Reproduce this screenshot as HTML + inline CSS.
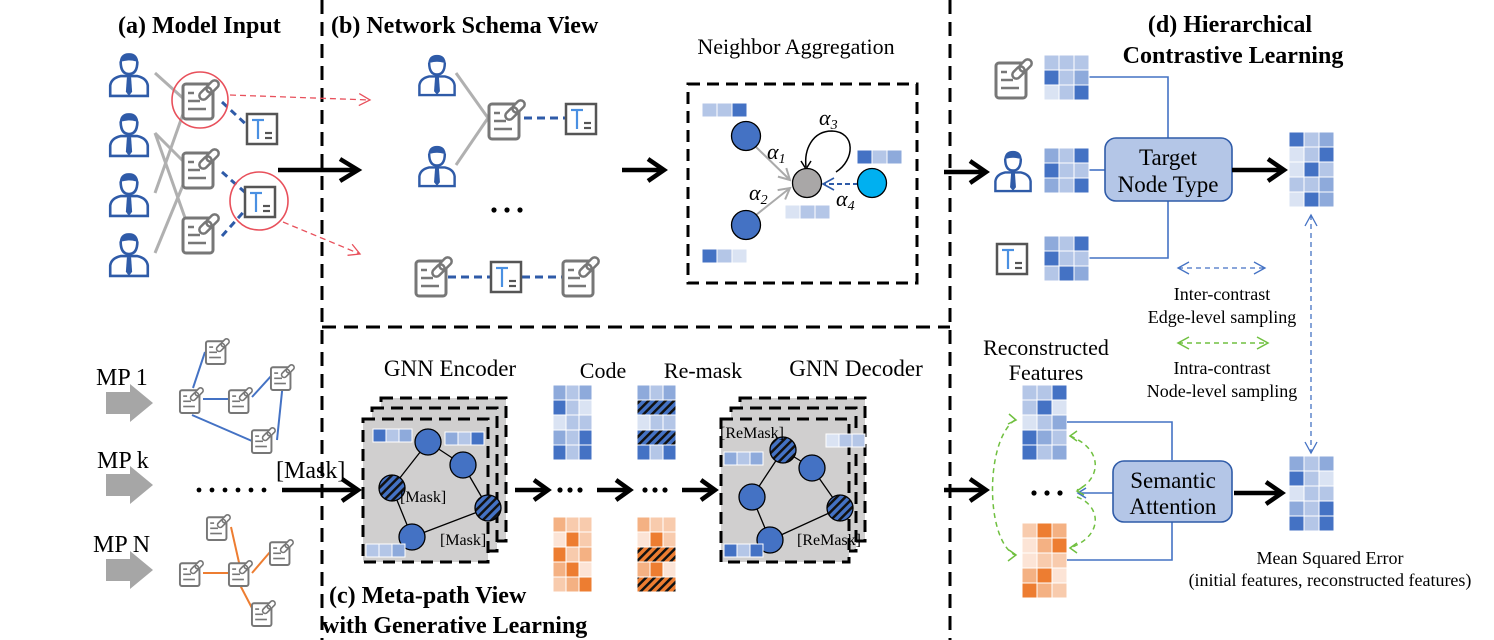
<!DOCTYPE html>
<html><head><meta charset="utf-8"><style>
html,body{margin:0;padding:0;background:#fff;}
svg{display:block;font-family:"Liberation Serif",serif;}
.d{fill:#4472c4}.m{fill:#8eaadb}.l{fill:#b4c6e7}.p{fill:#dae3f3}
.o1{fill:#ed7d31}.o2{fill:#f4b183}.o3{fill:#f8cbad}.o4{fill:#fce4d6}
.sb{fill:url(#sb)}.so{fill:url(#so)}
.g rect{stroke:#fff;stroke-width:1}
</style></head><body>
<svg width="1494" height="640" viewBox="0 0 1494 640" xmlns="http://www.w3.org/2000/svg">
<defs>
<pattern id="sb" width="6" height="6" patternUnits="userSpaceOnUse" patternTransform="rotate(45)"><rect width="6" height="6" fill="#4472c4"/><rect width="2.5" height="6" fill="#111"/></pattern>
<pattern id="so" width="6" height="6" patternUnits="userSpaceOnUse" patternTransform="rotate(45)"><rect width="6" height="6" fill="#ed7d31"/><rect width="2.5" height="6" fill="#111"/></pattern>
<symbol id="person" viewBox="0 0 40 46">
<path d="M11 13 Q11 3 20 3 Q29 3 29 13 L27 11 Q20 9 13 11 Z" fill="#2f5ba8"/>
<path d="M12 11 Q12 23 20 23 Q28 23 28 11" fill="none" stroke="#2f5ba8" stroke-width="2.5"/>
<path d="M2 44 L2 34 Q3 27 12 25 L28 25 Q37 27 38 34 L38 44 Z" fill="none" stroke="#2f5ba8" stroke-width="2.5"/>
<polygon points="18,26 22,26 23,40 20,44 17,40" fill="#2f5ba8"/>
</symbol>
<symbol id="doc" viewBox="0 0 40 46">
<rect x="3" y="8" width="30" height="35" rx="3" fill="#fff" stroke="#777" stroke-width="3"/>
<line x1="8" y1="17" x2="14" y2="17" stroke="#777" stroke-width="2.5"/>
<line x1="8" y1="25" x2="20" y2="25" stroke="#777" stroke-width="2.5"/>
<line x1="8" y1="33" x2="26" y2="33" stroke="#777" stroke-width="2.5"/>
<g transform="rotate(45 29 14)"><rect x="25" y="2" width="8" height="14" rx="4" fill="#fff" stroke="#777" stroke-width="2.5"/><rect x="25" y="12" width="8" height="14" rx="4" fill="none" stroke="#777" stroke-width="2.5"/></g>
</symbol>
<symbol id="tbox" viewBox="0 0 34 34">
<rect x="2" y="2" width="30" height="30" fill="#fff" stroke="#555" stroke-width="2.5"/>
<line x1="7" y1="8" x2="19" y2="8" stroke="#4a90e2" stroke-width="2.2"/>
<line x1="13" y1="8" x2="13" y2="27" stroke="#4a90e2" stroke-width="2.2"/>
<line x1="20" y1="21" x2="27" y2="21" stroke="#555" stroke-width="2.2"/>
<line x1="20" y1="26" x2="27" y2="26" stroke="#555" stroke-width="2.2"/>
</symbol>
<marker id="ar" markerWidth="14" markerHeight="14" refX="12" refY="7" orient="auto" markerUnits="userSpaceOnUse"><path d="M1 1 L12 7 L1 13" fill="none" stroke="#e8505b" stroke-width="1.3"/></marker>
<marker id="abl" markerWidth="14" markerHeight="14" refX="12" refY="7" orient="auto-start-reverse" markerUnits="userSpaceOnUse"><path d="M1 1 L12 7 L1 13" fill="none" stroke="#4472c4" stroke-width="1.3"/></marker>
<marker id="agr" markerWidth="14" markerHeight="14" refX="12" refY="7" orient="auto-start-reverse" markerUnits="userSpaceOnUse"><path d="M1 1 L12 7 L1 13" fill="none" stroke="#70c040" stroke-width="1.5"/></marker>
<marker id="agy" markerWidth="14" markerHeight="14" refX="12" refY="7" orient="auto" markerUnits="userSpaceOnUse"><path d="M1 1 L12 7 L1 13" fill="none" stroke="#aaa" stroke-width="2"/></marker>
<marker id="ad" markerWidth="14" markerHeight="14" refX="12" refY="7" orient="auto" markerUnits="userSpaceOnUse"><path d="M1 1 L12 7 L1 13" fill="none" stroke="#2f5ba8" stroke-width="1.6"/></marker>
</defs>

<g stroke="#000" stroke-width="3" stroke-dasharray="14 8" fill="none">
<line x1="322" y1="0" x2="322" y2="640"/>
<line x1="950" y1="0" x2="950" y2="640"/>
<line x1="322" y1="327" x2="950" y2="327"/>
</g>

<g font-weight="bold" font-size="24" fill="#000">
<text x="118" y="33">(a) Model Input</text>
<text x="331" y="33">(b) Network Schema View</text>
<text x="1230" y="32" text-anchor="middle">(d) Hierarchical</text>
<text x="1233" y="63" text-anchor="middle">Contrastive Learning</text>
<text x="329" y="603">(c) Meta-path View</text>
<text x="322" y="633">with Generative Learning</text>
</g>
<text x="796" y="54" font-size="22" text-anchor="middle">Neighbor Aggregation</text>

<!-- (a) -->
<g stroke="#b0b0b0" stroke-width="3">
<line x1="155" y1="73" x2="185" y2="100"/>
<line x1="155" y1="133" x2="190" y2="168"/>
<line x1="155" y1="133" x2="190" y2="232"/>
<line x1="155" y1="193" x2="188" y2="100"/>
<line x1="155" y1="253" x2="190" y2="168"/>
</g>
<g stroke="#2f5ba8" stroke-width="3" stroke-dasharray="7 5" fill="none">
<line x1="222" y1="102" x2="250" y2="128"/>
<line x1="222" y1="172" x2="248" y2="195"/>
<line x1="222" y1="236" x2="248" y2="207"/>
</g>
<use href="#person" x="108" y="50" width="42" height="48"/>
<use href="#person" x="108" y="110" width="42" height="48"/>
<use href="#person" x="108" y="170" width="42" height="48"/>
<use href="#person" x="108" y="230" width="42" height="48"/>
<use href="#doc" x="180" y="76" width="40" height="46"/>
<use href="#doc" x="180" y="145" width="40" height="46"/>
<use href="#doc" x="180" y="210" width="40" height="46"/>
<use href="#tbox" x="245" y="112" width="34" height="34"/>
<use href="#tbox" x="243" y="185" width="34" height="34"/>
<circle cx="200" cy="100" r="28" fill="none" stroke="#e8505b" stroke-width="1.6"/>
<circle cx="259" cy="201" r="29" fill="none" stroke="#e8505b" stroke-width="1.6"/>
<line x1="230" y1="95" x2="370" y2="100" stroke="#e8505b" stroke-width="1.3" stroke-dasharray="6 4" marker-end="url(#ar)"/>
<line x1="283" y1="222" x2="360" y2="254" stroke="#e8505b" stroke-width="1.3" stroke-dasharray="6 4" marker-end="url(#ar)"/>
<line x1="278" y1="170" x2="354" y2="170" stroke="#000" stroke-width="4.5"/>
<path d="M340 159 L358 170 L340 181" fill="none" stroke="#000" stroke-width="4.5"/>

<!-- (b) -->
<line x1="456" y1="73" x2="488" y2="118" stroke="#b0b0b0" stroke-width="3"/>
<line x1="456" y1="165" x2="488" y2="118" stroke="#b0b0b0" stroke-width="3"/>
<line x1="524" y1="118" x2="566" y2="118" stroke="#2f5ba8" stroke-width="3" stroke-dasharray="8 5"/>
<use href="#person" x="417" y="52" width="40" height="45"/>
<use href="#person" x="417" y="143" width="40" height="45"/>
<use href="#doc" x="486" y="96" width="40" height="46"/>
<use href="#tbox" x="564" y="102" width="34" height="34"/>
<g fill="#000"><circle cx="494" cy="210" r="2.6"/><circle cx="507" cy="210" r="2.6"/><circle cx="520" cy="210" r="2.6"/></g>
<line x1="448" y1="277" x2="492" y2="277" stroke="#2f5ba8" stroke-width="3" stroke-dasharray="8 5"/>
<line x1="522" y1="277" x2="563" y2="277" stroke="#2f5ba8" stroke-width="3" stroke-dasharray="8 5"/>
<use href="#doc" x="413" y="253" width="40" height="46"/>
<use href="#tbox" x="489" y="260" width="34" height="34"/>
<use href="#doc" x="560" y="253" width="40" height="46"/>
<line x1="622" y1="170" x2="660" y2="170" stroke="#000" stroke-width="4.5"/>
<path d="M648 159 L664 170 L648 181" fill="none" stroke="#000" stroke-width="4.5"/>

<!-- neighbor aggregation -->
<rect x="688" y="84" width="229" height="199" fill="none" stroke="#000" stroke-width="3" stroke-dasharray="12 7"/>
<line x1="756" y1="147" x2="790" y2="180" stroke="#aaa" stroke-width="2" marker-end="url(#agy)"/>
<line x1="756" y1="215" x2="790" y2="188" stroke="#aaa" stroke-width="2" marker-end="url(#agy)"/>
<line x1="858" y1="184" x2="823" y2="184" stroke="#2f5ba8" stroke-width="2" stroke-dasharray="5 3" marker-end="url(#ad)"/>
<path d="M836 172 C855 160 856 132 832 131 C812 131 804 150 806 167" fill="none" stroke="#000" stroke-width="1.5"/>
<path d="M801 161 L806 169 L811 161" fill="none" stroke="#000" stroke-width="1.5"/>
<circle cx="746" cy="136" r="14.5" fill="#4472c4" stroke="#000" stroke-width="1.3"/>
<circle cx="746" cy="225" r="14.5" fill="#4472c4" stroke="#000" stroke-width="1.3"/>
<circle cx="807" cy="183" r="14.5" fill="#a9a7a7" stroke="#000" stroke-width="1.3"/>
<circle cx="872" cy="183" r="14.5" fill="#00b0f0" stroke="#000" stroke-width="1.3"/>
<g class="g"><rect x="702" y="103" width="15" height="14" class="l"/><rect x="717" y="103" width="15" height="14" class="l"/><rect x="732" y="103" width="15" height="14" class="d"/></g>
<g class="g"><rect x="857" y="150" width="15" height="14" class="d"/><rect x="872" y="150" width="15" height="14" class="l"/><rect x="887" y="150" width="15" height="14" class="m"/></g>
<g class="g"><rect x="785" y="205" width="15" height="14" class="p"/><rect x="800" y="205" width="15" height="14" class="l"/><rect x="815" y="205" width="15" height="14" class="l"/></g>
<g class="g"><rect x="702" y="249" width="15" height="14" class="d"/><rect x="717" y="249" width="15" height="14" class="l"/><rect x="732" y="249" width="15" height="14" class="p"/></g>
<g font-style="italic" font-size="22"><text x="767" y="159">α<tspan font-size="14" dy="4">1</tspan></text><text x="749" y="200">α<tspan font-size="14" dy="4">2</tspan></text><text x="819" y="125">α<tspan font-size="14" dy="4">3</tspan></text><text x="836" y="206">α<tspan font-size="14" dy="4">4</tspan></text></g>

<line x1="944" y1="172" x2="982" y2="172" stroke="#000" stroke-width="4.5"/>
<path d="M970 161 L986 172 L970 183" fill="none" stroke="#000" stroke-width="4.5"/>

<!-- (d) top -->
<use href="#doc" x="993" y="55" width="40" height="46"/>
<use href="#person" x="993" y="148" width="40" height="45"/>
<use href="#tbox" x="995" y="242" width="34" height="34"/>
<g stroke="#4472c4" stroke-width="1.6" fill="none">
<polyline points="1089,77 1168,77 1168,138"/>
<line x1="1089" y1="170" x2="1105" y2="170"/>
<polyline points="1089,258 1168,258 1168,201"/>
</g>
<g class="g" transform="translate(1044,55)">
<rect x="0" y="0" width="15" height="15" class="l"/><rect x="15" y="0" width="15" height="15" class="l"/><rect x="30" y="0" width="15" height="15" class="l"/>
<rect x="0" y="15" width="15" height="15" class="d"/><rect x="15" y="15" width="15" height="15" class="l"/><rect x="30" y="15" width="15" height="15" class="m"/>
<rect x="0" y="30" width="15" height="15" class="p"/><rect x="15" y="30" width="15" height="15" class="l"/><rect x="30" y="30" width="15" height="15" class="d"/></g>
<g class="g" transform="translate(1044,148)">
<rect x="0" y="0" width="15" height="15" class="m"/><rect x="15" y="0" width="15" height="15" class="l"/><rect x="30" y="0" width="15" height="15" class="d"/>
<rect x="0" y="15" width="15" height="15" class="d"/><rect x="15" y="15" width="15" height="15" class="l"/><rect x="30" y="15" width="15" height="15" class="l"/>
<rect x="0" y="30" width="15" height="15" class="m"/><rect x="15" y="30" width="15" height="15" class="l"/><rect x="30" y="30" width="15" height="15" class="d"/></g>
<g class="g" transform="translate(1044,236)">
<rect x="0" y="0" width="15" height="15" class="m"/><rect x="15" y="0" width="15" height="15" class="l"/><rect x="30" y="0" width="15" height="15" class="d"/>
<rect x="0" y="15" width="15" height="15" class="d"/><rect x="15" y="15" width="15" height="15" class="l"/><rect x="30" y="15" width="15" height="15" class="l"/>
<rect x="0" y="30" width="15" height="15" class="l"/><rect x="15" y="30" width="15" height="15" class="d"/><rect x="30" y="30" width="15" height="15" class="m"/></g>
<rect x="1105" y="138" width="127" height="63" rx="11" fill="#b4c6e7" stroke="#2f5ba8" stroke-width="1.6"/>
<text x="1168" y="165" font-size="23" text-anchor="middle">Target</text>
<text x="1168" y="192" font-size="23" text-anchor="middle">Node Type</text>
<line x1="1232" y1="170" x2="1280" y2="170" stroke="#000" stroke-width="4.5"/>
<path d="M1268 159 L1284 170 L1268 181" fill="none" stroke="#000" stroke-width="4.5"/>
<g class="g" transform="translate(1289,132)">
<rect x="0" y="0" width="15" height="15" class="d"/><rect x="15" y="0" width="15" height="15" class="l"/><rect x="30" y="0" width="15" height="15" class="m"/>
<rect x="0" y="15" width="15" height="15" class="p"/><rect x="15" y="15" width="15" height="15" class="l"/><rect x="30" y="15" width="15" height="15" class="d"/>
<rect x="0" y="30" width="15" height="15" class="p"/><rect x="15" y="30" width="15" height="15" class="d"/><rect x="30" y="30" width="15" height="15" class="l"/>
<rect x="0" y="45" width="15" height="15" class="l"/><rect x="15" y="45" width="15" height="15" class="l"/><rect x="30" y="45" width="15" height="15" class="m"/>
<rect x="0" y="60" width="15" height="15" class="p"/><rect x="15" y="60" width="15" height="15" class="d"/><rect x="30" y="60" width="15" height="15" class="m"/></g>
<line x1="1178" y1="268" x2="1265" y2="268" stroke="#4472c4" stroke-width="1.3" stroke-dasharray="5 4" marker-start="url(#abl)" marker-end="url(#abl)"/>
<text x="1222" y="300" font-size="18" text-anchor="middle">Inter-contrast</text>
<text x="1222" y="323" font-size="18" text-anchor="middle">Edge-level sampling</text>
<line x1="1178" y1="343" x2="1268" y2="343" stroke="#70c040" stroke-width="1.5" stroke-dasharray="5 4" marker-start="url(#agr)" marker-end="url(#agr)"/>
<text x="1222" y="374" font-size="18" text-anchor="middle">Intra-contrast</text>
<text x="1222" y="397" font-size="18" text-anchor="middle">Node-level sampling</text>
<line x1="1311" y1="215" x2="1311" y2="453" stroke="#4472c4" stroke-width="1.3" stroke-dasharray="5 4" marker-start="url(#abl)" marker-end="url(#abl)"/>

<!-- (d) bottom -->
<text x="1046" y="355" font-size="22" text-anchor="middle">Reconstructed</text>
<text x="1046" y="380" font-size="22" text-anchor="middle">Features</text>
<g class="g" transform="translate(1022,385)">
<rect x="0" y="0" width="15" height="15" class="l"/><rect x="15" y="0" width="15" height="15" class="l"/><rect x="30" y="0" width="15" height="15" class="d"/>
<rect x="0" y="15" width="15" height="15" class="l"/><rect x="15" y="15" width="15" height="15" class="d"/><rect x="30" y="15" width="15" height="15" class="p"/>
<rect x="0" y="30" width="15" height="15" class="p"/><rect x="15" y="30" width="15" height="15" class="l"/><rect x="30" y="30" width="15" height="15" class="m"/>
<rect x="0" y="45" width="15" height="15" class="d"/><rect x="15" y="45" width="15" height="15" class="m"/><rect x="30" y="45" width="15" height="15" class="l"/>
<rect x="0" y="60" width="15" height="15" class="d"/><rect x="15" y="60" width="15" height="15" class="l"/><rect x="30" y="60" width="15" height="15" class="m"/></g>
<g class="g" transform="translate(1022,523)">
<rect x="0" y="0" width="15" height="15" class="o3"/><rect x="15" y="0" width="15" height="15" class="o1"/><rect x="30" y="0" width="15" height="15" class="o2"/>
<rect x="0" y="15" width="15" height="15" class="o4"/><rect x="15" y="15" width="15" height="15" class="o2"/><rect x="30" y="15" width="15" height="15" class="o1"/>
<rect x="0" y="30" width="15" height="15" class="o4"/><rect x="15" y="30" width="15" height="15" class="o3"/><rect x="30" y="30" width="15" height="15" class="o3"/>
<rect x="0" y="45" width="15" height="15" class="o2"/><rect x="15" y="45" width="15" height="15" class="o1"/><rect x="30" y="45" width="15" height="15" class="o4"/>
<rect x="0" y="60" width="15" height="15" class="o1"/><rect x="15" y="60" width="15" height="15" class="o2"/><rect x="30" y="60" width="15" height="15" class="o3"/></g>
<g fill="#000"><circle cx="1034" cy="493" r="2.6"/><circle cx="1047" cy="493" r="2.6"/><circle cx="1060" cy="493" r="2.6"/></g>
<g stroke="#4472c4" stroke-width="1.6" fill="none">
<polyline points="1067,422 1172,422 1172,460"/>
<polyline points="1067,560 1172,560 1172,522"/>
<line x1="1113" y1="493" x2="1078" y2="493"/>
<path d="M1086 488 L1078 493 L1086 498"/>
</g>
<g stroke="#70c040" stroke-width="1.5" stroke-dasharray="5 4" fill="none">
<path d="M1015 420 C985 440 985 540 1015 555"/>
<path d="M1070 436 C1105 450 1100 480 1077 490"/>
<path d="M1077 497 C1100 505 1105 535 1070 548"/>
</g>
<g stroke="#70c040" stroke-width="1.5" fill="none">
<path d="M1009 414 L1016 420 L1008 424"/><path d="M1009 550 L1016 555 L1008 561"/>
<path d="M1077 431 L1070 436 L1077 441"/><path d="M1084 486 L1077 491 L1084 495"/><path d="M1077 543 L1070 548 L1077 553"/>
</g>
<line x1="944" y1="490" x2="982" y2="490" stroke="#000" stroke-width="4.5"/>
<path d="M970 479 L986 490 L970 501" fill="none" stroke="#000" stroke-width="4.5"/>
<rect x="1113" y="461" width="119" height="61" rx="11" fill="#b4c6e7" stroke="#2f5ba8" stroke-width="1.6"/>
<text x="1173" y="488" font-size="23" text-anchor="middle">Semantic</text>
<text x="1173" y="514" font-size="23" text-anchor="middle">Attention</text>
<line x1="1234" y1="493" x2="1278" y2="493" stroke="#000" stroke-width="4.5"/>
<path d="M1266 482 L1282 493 L1266 504" fill="none" stroke="#000" stroke-width="4.5"/>
<g class="g" transform="translate(1289,456)">
<rect x="0" y="0" width="15" height="15" class="m"/><rect x="15" y="0" width="15" height="15" class="l"/><rect x="30" y="0" width="15" height="15" class="m"/>
<rect x="0" y="15" width="15" height="15" class="d"/><rect x="15" y="15" width="15" height="15" class="l"/><rect x="30" y="15" width="15" height="15" class="p"/>
<rect x="0" y="30" width="15" height="15" class="p"/><rect x="15" y="30" width="15" height="15" class="l"/><rect x="30" y="30" width="15" height="15" class="l"/>
<rect x="0" y="45" width="15" height="15" class="m"/><rect x="15" y="45" width="15" height="15" class="l"/><rect x="30" y="45" width="15" height="15" class="d"/>
<rect x="0" y="60" width="15" height="15" class="d"/><rect x="15" y="60" width="15" height="15" class="l"/><rect x="30" y="60" width="15" height="15" class="d"/></g>
<text x="1330" y="564" font-size="18" text-anchor="middle">Mean Squared Error</text>
<text x="1330" y="586" font-size="18" text-anchor="middle">(initial features, reconstructed features)</text>

<!-- (c) meta-paths -->
<g font-size="24"><text x="96" y="385">MP 1</text><text x="97" y="468">MP k</text><text x="93" y="552">MP N</text></g>
<g fill="#a6a6a6">
<polygon points="106,392 130,392 130,384 153,403 130,422 130,414 106,414"/>
<polygon points="106,474 130,474 130,466 153,485 130,504 130,496 106,496"/>
<polygon points="106,559 130,559 130,551 153,570 130,589 130,581 106,581"/>
</g>
<g stroke="#4472c4" stroke-width="2" fill="none">
<line x1="205" y1="352" x2="193" y2="388"/><line x1="203" y1="399" x2="232" y2="399"/><line x1="252" y1="397" x2="272" y2="375"/><line x1="283" y1="382" x2="277" y2="440"/><line x1="192" y1="415" x2="252" y2="441"/>
</g>
<g stroke="#ed7d31" stroke-width="2" fill="none">
<line x1="231" y1="527" x2="240" y2="567"/><line x1="203" y1="573" x2="230" y2="573"/><line x1="252" y1="573" x2="270" y2="552"/><line x1="240" y1="585" x2="253" y2="610"/>
</g>
<use href="#doc" x="204" y="336" width="26" height="30"/>
<use href="#doc" x="178" y="385" width="26" height="30"/>
<use href="#doc" x="227" y="385" width="26" height="30"/>
<use href="#doc" x="269" y="362" width="26" height="30"/>
<use href="#doc" x="250" y="425" width="26" height="30"/>
<g fill="#000"><circle cx="199" cy="490" r="2.4"/><circle cx="212" cy="490" r="2.4"/><circle cx="225" cy="490" r="2.4"/><circle cx="238" cy="490" r="2.4"/><circle cx="251" cy="490" r="2.4"/><circle cx="264" cy="490" r="2.4"/></g>
<use href="#doc" x="205" y="512" width="26" height="30"/>
<use href="#doc" x="178" y="558" width="26" height="30"/>
<use href="#doc" x="227" y="558" width="26" height="30"/>
<use href="#doc" x="268" y="537" width="26" height="30"/>
<use href="#doc" x="250" y="598" width="26" height="30"/>
<text x="276" y="478" font-size="24">[Mask]</text>
<line x1="282" y1="490" x2="354" y2="490" stroke="#000" stroke-width="4.5"/>
<path d="M342 479 L358 490 L342 501" fill="none" stroke="#000" stroke-width="4.5"/>

<!-- encoder -->
<text x="450" y="376" font-size="23" text-anchor="middle">GNN Encoder</text>
<g stroke="#000" stroke-width="3" stroke-dasharray="12 7" fill="#d0cfcf">
<rect x="381" y="398" width="125" height="143"/>
<rect x="372" y="408" width="125" height="143"/>
<rect x="363" y="419" width="125" height="143"/>
</g>
<g stroke="#000" stroke-width="1.3">
<line x1="428" y1="442" x2="392" y2="488"/><line x1="428" y1="442" x2="463" y2="465"/><line x1="463" y1="465" x2="488" y2="508"/><line x1="488" y1="508" x2="412" y2="537"/><line x1="392" y1="488" x2="412" y2="537"/>
<circle cx="428" cy="442" r="13" fill="#4472c4"/><circle cx="463" cy="465" r="13" fill="#4472c4"/><circle cx="392" cy="488" r="13" class="sb"/><circle cx="488" cy="508" r="13" class="sb"/><circle cx="412" cy="537" r="13" fill="#4472c4"/>
</g>
<g class="g"><rect x="373" y="429" width="13" height="13" class="d"/><rect x="386" y="429" width="13" height="13" class="l"/><rect x="399" y="429" width="13" height="13" class="m"/>
<rect x="445" y="432" width="13" height="13" class="m"/><rect x="458" y="432" width="13" height="13" class="l"/><rect x="471" y="432" width="13" height="13" class="d"/>
<rect x="366" y="544" width="13" height="13" class="l"/><rect x="379" y="544" width="13" height="13" class="l"/><rect x="392" y="544" width="13" height="13" class="m"/></g>
<text x="400" y="502" font-size="16">[Mask]</text>
<text x="440" y="545" font-size="16">[Mask]</text>

<!-- code / remask -->
<text x="603" y="378" font-size="22" text-anchor="middle">Code</text>
<text x="703" y="378" font-size="22" text-anchor="middle">Re-mask</text>
<g class="g" transform="translate(553,385)">
<rect x="0" y="0" width="13" height="15" class="m"/><rect x="13" y="0" width="13" height="15" class="l"/><rect x="26" y="0" width="13" height="15" class="m"/>
<rect x="0" y="15" width="13" height="15" class="d"/><rect x="13" y="15" width="13" height="15" class="l"/><rect x="26" y="15" width="13" height="15" class="p"/>
<rect x="0" y="30" width="13" height="15" class="p"/><rect x="13" y="30" width="13" height="15" class="l"/><rect x="26" y="30" width="13" height="15" class="l"/>
<rect x="0" y="45" width="13" height="15" class="m"/><rect x="13" y="45" width="13" height="15" class="l"/><rect x="26" y="45" width="13" height="15" class="d"/>
<rect x="0" y="60" width="13" height="15" class="d"/><rect x="13" y="60" width="13" height="15" class="l"/><rect x="26" y="60" width="13" height="15" class="d"/></g>
<g class="g" transform="translate(637,385)">
<rect x="0" y="0" width="13" height="15" class="m"/><rect x="13" y="0" width="13" height="15" class="l"/><rect x="26" y="0" width="13" height="15" class="m"/>
<rect x="0" y="15" width="39" height="15" class="sb"/>
<rect x="0" y="30" width="13" height="15" class="p"/><rect x="13" y="30" width="13" height="15" class="l"/><rect x="26" y="30" width="13" height="15" class="l"/>
<rect x="0" y="45" width="39" height="15" class="sb"/>
<rect x="0" y="60" width="13" height="15" class="d"/><rect x="13" y="60" width="13" height="15" class="l"/><rect x="26" y="60" width="13" height="15" class="d"/></g>
<g class="g" transform="translate(553,517)">
<rect x="0" y="0" width="13" height="15" class="o2"/><rect x="13" y="0" width="13" height="15" class="o3"/><rect x="26" y="0" width="13" height="15" class="o3"/>
<rect x="0" y="15" width="13" height="15" class="o4"/><rect x="13" y="15" width="13" height="15" class="o1"/><rect x="26" y="15" width="13" height="15" class="o3"/>
<rect x="0" y="30" width="13" height="15" class="o1"/><rect x="13" y="30" width="13" height="15" class="o3"/><rect x="26" y="30" width="13" height="15" class="o2"/>
<rect x="0" y="45" width="13" height="15" class="o2"/><rect x="13" y="45" width="13" height="15" class="o1"/><rect x="26" y="45" width="13" height="15" class="o4"/>
<rect x="0" y="60" width="13" height="15" class="o3"/><rect x="13" y="60" width="13" height="15" class="o2"/><rect x="26" y="60" width="13" height="15" class="o1"/></g>
<g class="g" transform="translate(637,517)">
<rect x="0" y="0" width="13" height="15" class="o2"/><rect x="13" y="0" width="13" height="15" class="o3"/><rect x="26" y="0" width="13" height="15" class="o3"/>
<rect x="0" y="15" width="13" height="15" class="o4"/><rect x="13" y="15" width="13" height="15" class="o1"/><rect x="26" y="15" width="13" height="15" class="o3"/>
<rect x="0" y="30" width="39" height="15" class="so"/>
<rect x="0" y="45" width="13" height="15" class="o2"/><rect x="13" y="45" width="13" height="15" class="o1"/><rect x="26" y="45" width="13" height="15" class="o4"/>
<rect x="0" y="60" width="39" height="15" class="so"/></g>
<g stroke="#000" stroke-width="4.5" fill="none">
<line x1="515" y1="490" x2="544" y2="490"/><path d="M534 480 L548 490 L534 500"/>
<line x1="597" y1="490" x2="626" y2="490"/><path d="M616 480 L630 490 L616 500"/>
<line x1="682" y1="490" x2="711" y2="490"/><path d="M701 480 L715 490 L701 500"/>
</g>
<g fill="#000"><circle cx="560" cy="490" r="2.6"/><circle cx="570" cy="490" r="2.6"/><circle cx="580" cy="490" r="2.6"/>
<circle cx="645" cy="490" r="2.6"/><circle cx="655" cy="490" r="2.6"/><circle cx="665" cy="490" r="2.6"/></g>

<!-- decoder -->
<text x="856" y="376" font-size="23" text-anchor="middle">GNN Decoder</text>
<g stroke="#000" stroke-width="3" stroke-dasharray="12 7" fill="#d0cfcf">
<rect x="740" y="398" width="125" height="143"/>
<rect x="731" y="408" width="125" height="143"/>
<rect x="721" y="419" width="128" height="143"/>
</g>
<g stroke="#000" stroke-width="1.3">
<line x1="783" y1="450" x2="752" y2="497"/><line x1="783" y1="450" x2="812" y2="468"/><line x1="812" y1="468" x2="840" y2="508"/><line x1="840" y1="508" x2="770" y2="540"/><line x1="752" y1="497" x2="770" y2="540"/>
<circle cx="783" cy="450" r="13" class="sb"/><circle cx="812" cy="468" r="13" fill="#4472c4"/><circle cx="752" cy="497" r="13" fill="#4472c4"/><circle cx="840" cy="508" r="13" class="sb"/><circle cx="770" cy="540" r="13" fill="#4472c4"/>
</g>
<g class="g"><rect x="826" y="434" width="13" height="13" class="p"/><rect x="839" y="434" width="13" height="13" class="l"/><rect x="852" y="434" width="13" height="13" class="l"/>
<rect x="724" y="452" width="13" height="13" class="m"/><rect x="737" y="452" width="13" height="13" class="l"/><rect x="750" y="452" width="13" height="13" class="m"/>
<rect x="724" y="544" width="13" height="13" class="d"/><rect x="737" y="544" width="13" height="13" class="l"/><rect x="750" y="544" width="13" height="13" class="d"/></g>
<text x="720" y="438" font-size="16">[ReMask]</text>
<text x="797" y="545" font-size="16">[ReMask]</text>
</svg>
</body></html>
